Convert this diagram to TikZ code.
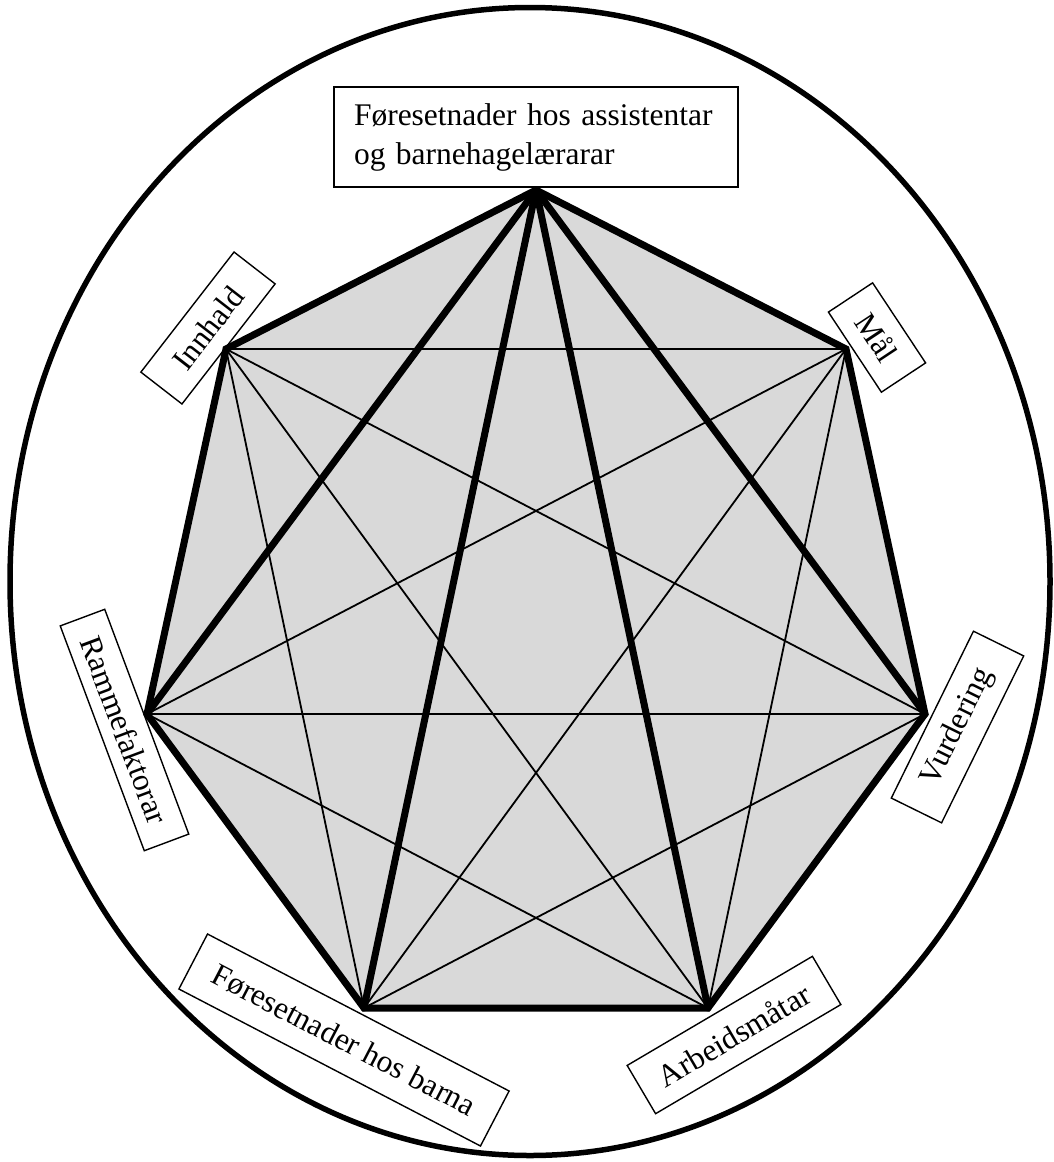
\documentclass[tikz,border=0pt]{standalone}
\usepackage{fontspec}
\setmainfont{Liberation Serif}
\definecolor{hepfill}{RGB}{217,217,217}
\begin{document}
\begin{tikzpicture}[x=1pt,y=-1pt,
  thickline/.style={line width=7pt, line cap=round, line join=miter},
  thinline/.style={line width=1.8pt, line cap=round},
  lbl/.style={draw, line width=1.4pt, inner sep=0pt, font=\fontsize{31.5}{39}\selectfont, align=center}]
\useasboundingbox (0,0) rectangle (1054,1162);
\draw[line width=5.5pt] (530,581.5) ellipse [x radius=520, y radius=574];
% labels
\node[lbl, align=left, text width=364pt, inner xsep=20pt, inner ysep=16pt] (top) at (536,137) {Føresetnader hos assistentar\\og barnehagelærarar};
\node[lbl, rotate=52.2, minimum width=152pt, minimum height=52pt] (innhald) at (208,328) {Innhald};
\node[lbl, rotate=-56.5, minimum width=96pt, minimum height=53pt] (maal) at (877,337.5) {Mål};
\node[lbl, rotate=-69.5, minimum width=240pt, minimum height=47.5pt] (ramme) at (124.5,730) {Rammefaktorar};
\node[lbl, rotate=63.8, minimum width=186pt, minimum height=56pt] (vurd) at (957.5,727) {Vurdering};
\node[lbl, rotate=-27.5, minimum width=340pt, minimum height=62pt] (barna) at (344,1040) {Føresetnader hos barna};
\node[lbl, rotate=30.5, minimum width=215pt, minimum height=56pt] (arb) at (734,1035) {Arbeidsmåtar};
% vertices
\coordinate (T) at (536,190);
\coordinate (UR) at (846,349);
\coordinate (R) at (925,714);
\coordinate (BR) at (708,1008);
\coordinate (BL) at (364,1008);
\coordinate (L) at (147,714);
\coordinate (UL) at (226,349);
\fill[hepfill] (T) -- (UR) -- (R) -- (BR) -- (BL) -- (L) -- (UL) -- cycle;
% thin diagonals
\draw[thinline] (UL) -- (UR);
\draw[thinline] (UL) -- (R);
\draw[thinline] (UL) -- (BR);
\draw[thinline] (UL) -- (BL);
\draw[thinline] (UR) -- (L);
\draw[thinline] (UR) -- (BL);
\draw[thinline] (UR) -- (BR);
\draw[thinline] (L) -- (R);
\draw[thinline] (L) -- (BR);
\draw[thinline] (BL) -- (R);
% thick
\draw[thickline] (T) -- (L);
\draw[thickline] (T) -- (R);
\draw[thickline] (T) -- (BL);
\draw[thickline] (T) -- (BR);
\draw[thickline] (T) -- (UR) -- (R) -- (BR) -- (BL) -- (L) -- (UL) -- cycle;
\end{tikzpicture}
\end{document}
